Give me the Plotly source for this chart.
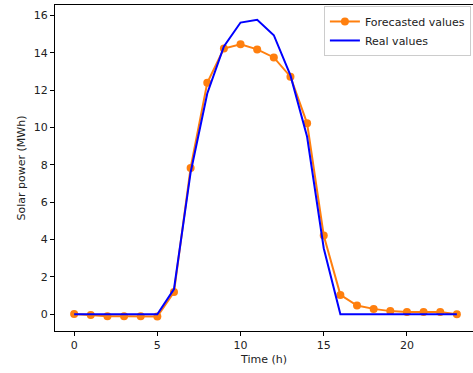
import plotly.graph_objects as go

hours = list(range(24))
forecasted = [0.01, -0.04, -0.1, -0.1, -0.1, -0.12, 1.19, 7.84, 12.4, 14.24, 14.47, 14.19,
              13.76, 12.73, 10.23, 4.22, 1.04, 0.47, 0.29, 0.17, 0.12, 0.12, 0.12, 0.0]
real = [0.0, 0.0, 0.0, 0.0, 0.0, 0.0, 1.35, 7.6, 11.83, 14.35, 15.63, 15.78,
        14.95, 12.8, 9.51, 3.54, 0.0, 0.0, 0.0, 0.0, 0.0, 0.0, 0.0, 0.0]
x_ticks = [0, 5, 10, 15, 20]
y_ticks = [0, 2, 4, 6, 8, 10, 12, 14, 16]

FONT = "DejaVu Sans"

fig = go.Figure()
fig.add_trace(go.Scatter(x=hours, y=forecasted, mode="lines+markers", name="Forecasted values",
                         line=dict(color="#ff7f0e", width=2), marker=dict(color="#ff7f0e", size=8)))
fig.add_trace(go.Scatter(x=hours, y=real, mode="lines", name="Real values",
                         line=dict(color="#0000ff", width=2)))

axis_common = dict(showline=True, linecolor="black", linewidth=1, ticks="outside", ticklen=4,
                   tickcolor="black", showgrid=False, zeroline=False,
                   tickfont=dict(family=FONT, size=11, color="#222222"))
fig.update_xaxes(range=[-1.15, 23.97], tickvals=x_ticks, mirror=True,
                 title=dict(text="Time (h)", font=dict(family=FONT, size=11, color="#222222"),
                            standoff=4), **axis_common)
fig.update_yaxes(range=[-0.895, 16.57], tickvals=y_ticks, mirror=False,
                 title=dict(text="Solar power (MWh)", font=dict(family=FONT, size=11, color="#222222"),
                            standoff=5), **axis_common)

fig.update_layout(
    width=473, height=373,
    margin=dict(l=55, r=0, t=5, b=42),
    plot_bgcolor="white", paper_bgcolor="white",
    font=dict(family=FONT, size=11, color="#222222"),
    legend=dict(x=0.995, y=0.997, xanchor="right", yanchor="top",
                bgcolor="rgba(255,255,255,0.8)", bordercolor="#cccccc", borderwidth=1,
                font=dict(family=FONT, size=11, color="#222222"),
                itemwidth=30, tracegroupgap=0),
)

fig.write_html("out.html", config={"displayModeBar": False},
               post_script="document.body.style.margin='0px';")
